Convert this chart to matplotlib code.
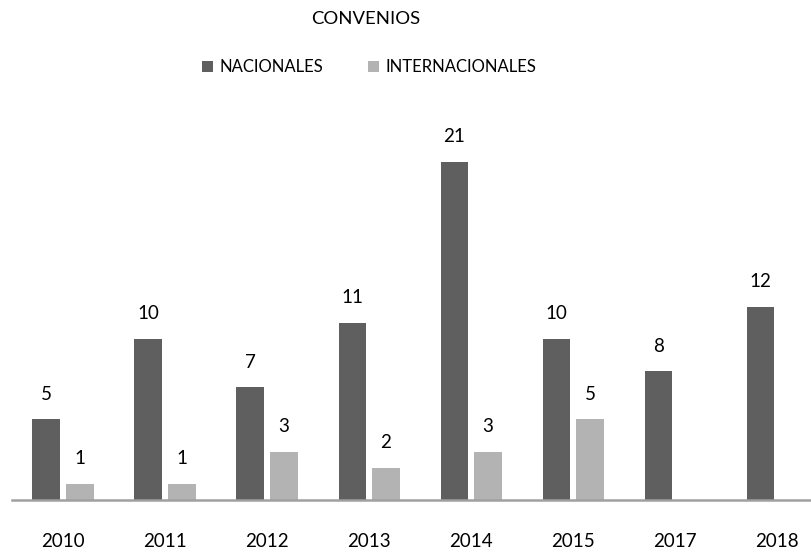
import matplotlib.pyplot as plt
import numpy as np

years = ['2010', '2011', '2012', '2013', '2014', '2015', '2017', '2018']
nacionales = [5, 10, 7, 11, 21, 10, 8, 12]
internacionales = [1, 1, 3, 2, 3, 5, None, None]

dark = '#5f5f5f'
light = '#b3b3b3'

plt.rcParams['font.family'] = ['Lato', 'DejaVu Sans']

fig = plt.figure(figsize=(8.12, 5.52), dpi=100)
ax = fig.add_axes([12 / 812, 52 / 552, 800 / 812, 370 / 552])

x = np.arange(len(years))
w = 0.27
off = 0.165

nac_vals = nacionales
int_vals = [v if v is not None else 0 for v in internacionales]

b1 = ax.bar(x - off, nac_vals, w, color=dark, label='NACIONALES')
b2 = ax.bar(x + off, int_vals, w, color=light, label='INTERNACIONALES')

for xi, v in zip(x, nacionales):
    ax.annotate(str(v), (xi - off, v), xytext=(0, 12), textcoords='offset points',
                ha='center', va='bottom', fontsize=13.5, color='#000000')
for xi, v in zip(x, internacionales):
    if v is None:
        continue
    ax.annotate(str(v), (xi + off, v), xytext=(0, 12), textcoords='offset points',
                ha='center', va='bottom', fontsize=13.5, color='#000000')

ax.set_xlim(-0.5, 7.34)
ax.set_ylim(0, 22.98)
ax.set_xticks(x)
ax.set_xticklabels(years, fontsize=13.5)
ax.tick_params(axis='x', length=0, pad=24)
ax.set_yticks([])
for s in ['top', 'right', 'left']:
    ax.spines[s].set_visible(False)
ax.spines['bottom'].set_color('#a0a0a0')
ax.spines['bottom'].set_linewidth(1.8)

fig.text(366 / 812, 1 - 19 / 552, 'CONVENIOS', ha='center', va='center', fontsize=13.3)
fig.legend(handles=[b1, b2], loc='center', bbox_to_anchor=(369 / 812, 1 - 67 / 552),
           ncol=2, frameon=False, fontsize=12, handlelength=0.65, handleheight=0.65,
           handletextpad=0.4, columnspacing=2.7)

fig.savefig('out.png', dpi=100)
